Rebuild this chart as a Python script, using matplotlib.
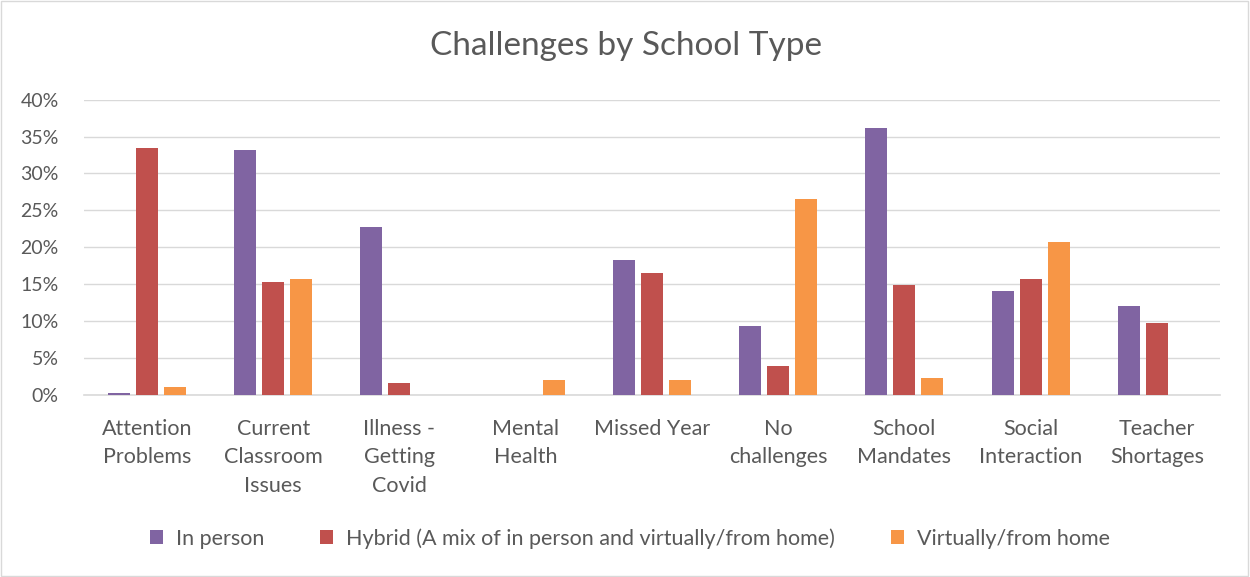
import matplotlib
matplotlib.use("Agg")
import matplotlib.pyplot as plt
import numpy as np
from matplotlib.patches import Rectangle

categories = ["Attention\nProblems", "Current\nClassroom\nIssues", "Illness -\nGetting\nCovid",
              "Mental\nHealth", "Missed Year", "No\nchallenges", "School\nMandates",
              "Social\nInteraction", "Teacher\nShortages"]
series_names = ["In person", "Hybrid (A mix of in person and virtually/from home)", "Virtually/from home"]
in_person = [0.3, 33.2, 22.8, 0.0, 18.3, 9.3, 36.2, 14.1, 12.1]
hybrid = [33.5, 15.3, 1.6, 0.0, 16.5, 3.9, 14.9, 15.7, 9.8]
virtual = [1.1, 15.7, 0.0, 2.1, 2.0, 26.6, 2.3, 20.7, 0.0]
colors = ["#8064A2", "#C0504D", "#F79646"]
yticks = [0, 5, 10, 15, 20, 25, 30, 35, 40]

plt.rcParams['font.family'] = ['Lato', 'DejaVu Sans']
text_color = "#595959"

fig = plt.figure(figsize=(12.5, 5.77), dpi=100)
ax = fig.add_axes([0.067, 0.3154, 0.909, 0.512])

x = np.arange(len(categories))
w = 0.175
step = 0.222
for i, (vals, c, name) in enumerate(zip([in_person, hybrid, virtual], colors, series_names)):
    ax.bar(x + (i - 1) * step, vals, width=w, color=c, label=name, zorder=3)

ax.set_xlim(-0.5, len(categories) - 0.5)
ax.set_ylim(0, 40)
ax.set_yticks(yticks)
ax.set_yticklabels([f"{t}%" for t in yticks], color=text_color, fontsize=14)
ax.set_xticks(x)
ax.set_xticklabels(categories, color=text_color, fontsize=15.5, linespacing=1.55, va="top")
ax.tick_params(axis='both', length=0)
ax.tick_params(axis='x', pad=17)
ax.tick_params(axis='y', pad=18)
ax.grid(axis='y', color="#D9D9D9", linewidth=1, zorder=0)
for s in ["top", "right", "left"]:
    ax.spines[s].set_visible(False)
ax.spines["bottom"].set_color("#D9D9D9")
ax.spines["bottom"].set_linewidth(1.2)

fig.text(0.501, 0.92, "Challenges by School Type", ha="center", va="center",
         fontsize=24, color=text_color)

leg = fig.legend(loc="center", bbox_to_anchor=(0.504, 0.067), ncol=3, frameon=False,
                 fontsize=15.5, handlelength=0.6, handleheight=0.6, columnspacing=2.6,
                 handletextpad=0.6)
for t in leg.get_texts():
    t.set_color(text_color)

fig.patches.append(Rectangle((0.001, 0.001), 0.997, 0.997, transform=fig.transFigure,
                             fill=False, edgecolor="#D9D9D9", linewidth=1))

fig.savefig("out.png", dpi=100, facecolor="white")
